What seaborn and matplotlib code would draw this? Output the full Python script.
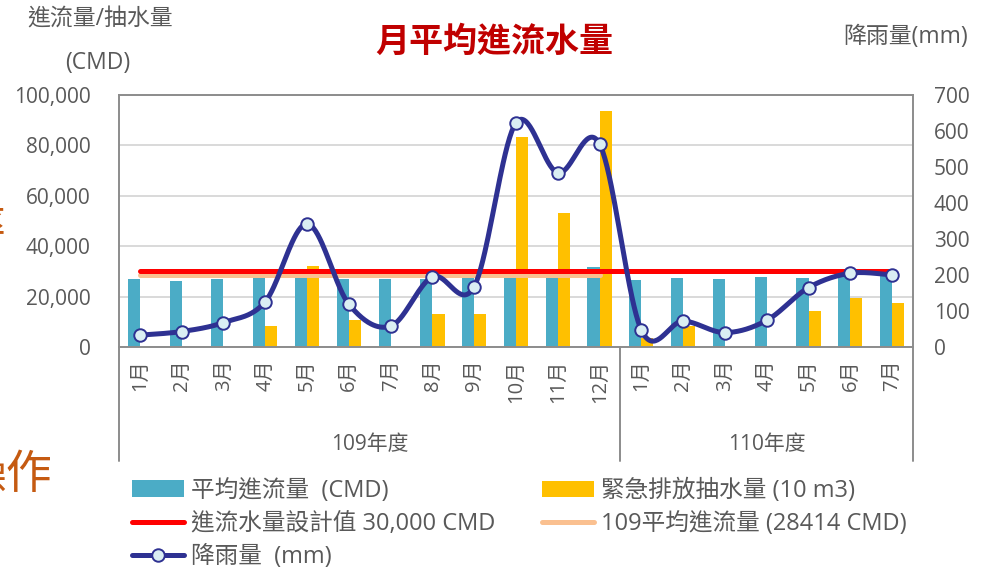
import numpy as np
import pandas as pd
import matplotlib
matplotlib.use("Agg")
import matplotlib.pyplot as plt
import seaborn as sns
from matplotlib.patches import Patch
from matplotlib.lines import Line2D
from matplotlib.ticker import FuncFormatter

# ---------------- data ----------------
months = ['1月', '2月', '3月', '4月', '5月', '6月', '7月', '8月', '9月', '10月', '11月', '12月',
          '1月', '2月', '3月', '4月', '5月', '6月', '7月']
years = ['109年度'] * 12 + ['110年度'] * 7
inflow = [26900, 26300, 26900, 27500, 27500, 27000, 27000, 27000, 27300, 27500, 27500, 31900,
          26600, 27500, 27000, 27800, 27400, 28500, 28000]
pumping = [0, 0, 0, 8500, 32100, 10700, 0, 13000, 13100, 83400, 53300, 93800,
           3400, 8300, 0, 0, 14400, 19600, 17600]
rainfall = [33, 43, 68, 126, 342, 119, 58, 195, 168, 623, 484, 564,
            47, 72, 40, 74, 165, 205, 200]
design_value = 30000
avg_109 = 28414
left_ticks = [0, 20000, 40000, 60000, 80000, 100000]
right_ticks = [0, 100, 200, 300, 400, 500, 600, 700]

name_inflow = '平均進流量  (CMD)'
name_pump = '緊急排放抽水量 (10 m3)'
name_design = '進流水量設計值 30,000 CMD'
name_avg = '109平均進流量 (28414 CMD)'
name_rain = '降雨量  (mm)'

# ---------------- style ----------------
C_TEAL = '#4BACC6'
C_YEL = '#FFC000'
C_RED = '#FF0000'
C_ORG = '#FAC090'
C_NAVY = '#2E3192'
C_MFACE = '#DAEEF3'
C_TXT = '#595959'
C_AX = '#8C8C8C'
C_GRID = '#D9D9D9'

sns.set_theme(style='white')
plt.rcParams['font.family'] = ['Open Sans', 'Noto Sans CJK TC', 'DejaVu Sans']
plt.rcParams['axes.unicode_minus'] = False

W, H = 982, 568
def fx(px):
    return px / W
def fy(py):
    return 1 - py / H

fig = plt.figure(figsize=(W / 100, H / 100), dpi=100)
L, R, T, B = 119, 913, 95, 347
ax = fig.add_axes([fx(L), fy(B), fx(R) - fx(L), fy(T) - fy(B)])

keys = [f'{y}-{i}' for i, y in enumerate(years)]
df = pd.DataFrame({
    'key': keys * 2,
    'series': [name_inflow] * len(keys) + [name_pump] * len(keys),
    'value': inflow + pumping,
})
sns.barplot(data=df, x='key', y='value', hue='series', order=keys,
            hue_order=[name_inflow, name_pump], palette=[C_TEAL, C_YEL],
            width=0.58, gap=0, saturation=1, linewidth=0, legend=False, ax=ax)

xs = np.arange(len(keys))
# horizontal reference series
ax.plot(xs, [design_value] * len(xs), color=C_RED, lw=3.6, solid_capstyle='round', zorder=4)
n109 = years.count('109年度')
ax.plot(xs[:n109], [avg_109] * n109, color=C_ORG, lw=3.6, solid_capstyle='round', zorder=3.9)

ax.set_xlim(-0.5, len(keys) - 0.5)
ax.set_ylim(0, 100000)
ax.set_yticks(left_ticks)
ax.yaxis.set_major_formatter(FuncFormatter(lambda v, p: f'{int(v):,}'))
ax.set_xticks(xs)
ax.set_xticklabels(months, rotation=90)
ax.set_xlabel('')
ax.set_ylabel('')
ax.grid(False)
ax.yaxis.grid(True, color=C_GRID, lw=1.4)
ax.set_axisbelow(True)
for s in ax.spines.values():
    s.set_color(C_AX)
    s.set_linewidth(1.4)
ax.tick_params(axis='y', length=0, pad=20.5, labelsize=15, labelcolor=C_TXT)
ax.tick_params(axis='x', length=0, pad=9, labelsize=14.5, labelcolor=C_TXT)

# secondary axis: rainfall (smoothed like Excel)
ax2 = ax.twinx()
def smooth(xv, yv, n=40):
    pts = np.column_stack([xv, yv]).astype(float)
    out = []
    m = len(pts)
    for i in range(m - 1):
        p0 = pts[max(i - 1, 0)]
        p1 = pts[i]
        p2 = pts[i + 1]
        p3 = pts[min(i + 2, m - 1)]
        c1 = p1 + (p2 - p0) / 6
        c2 = p2 - (p3 - p1) / 6
        t = np.linspace(0, 1, n)[:, None]
        seg = (1 - t) ** 3 * p1 + 3 * (1 - t) ** 2 * t * c1 + 3 * (1 - t) * t ** 2 * c2 + t ** 3 * p2
        out.append(seg if i == 0 else seg[1:])
    return np.vstack(out)

curve = smooth(xs, rainfall)
ax2.plot(curve[:, 0], curve[:, 1], color=C_NAVY, lw=3.6, solid_capstyle='round', zorder=5)
ax2.plot(xs, rainfall, linestyle='none', marker='o', ms=9, mfc=C_MFACE, mec=C_NAVY, mew=1.4, zorder=6)
ax2.set_ylim(0, 700)
ax2.set_yticks(right_ticks)
ax2.grid(False)
for s in ax2.spines.values():
    s.set_visible(False)
ax2.tick_params(axis='y', length=0, pad=15, labelsize=15, labelcolor=C_TXT)
ax2.set_xlim(-0.5, len(keys) - 0.5)

# multi-level category axis dividers and group labels
ydrop = -(461 - B) / (B - T)
xtr = ax.get_xaxis_transform()
n_all = len(keys)
for xd in (-0.5, n109 - 0.5, n_all - 0.5):
    ax.plot([xd, xd], [0, ydrop], color=C_AX, lw=1.4, transform=xtr, clip_on=False)
ygrp = -(445 - B) / (B - T)
ax.text((n109 - 1) / 2, ygrp, '109年度', transform=xtr, ha='center', va='center',
        fontsize=15, color=C_TXT)
ax.text(n109 + (n_all - n109 - 1) / 2, ygrp, '110年度', transform=xtr, ha='center', va='center',
        fontsize=15, color=C_TXT)

# titles
fig.text(fx(494), fy(43), '月平均進流水量', ha='center', va='center', fontsize=24.5,
         fontweight='bold', color='#C00000')
fig.text(fx(100), fy(20), '進流量/抽水量', ha='center', va='center', fontsize=16.5, color=C_TXT)
fig.text(fx(98), fy(63), '(CMD)', ha='center', va='center', fontsize=16.5, color=C_TXT)
fig.text(fx(906), fy(37), '降雨量(mm)', ha='center', va='center', fontsize=16.5, color=C_TXT)

# slide fragments at the left edge
fig.text(fx(52), fy(476), '操作', ha='right', va='center', fontsize=33, color='#C55A11')
fig.text(fx(5), fy(228), '率', ha='right', va='center', fontsize=30, color='#C55A11')

# legend
h_inflow = Patch(facecolor=C_TEAL, edgecolor='none', label=name_inflow)
h_pump = Patch(facecolor=C_YEL, edgecolor='none', label=name_pump)
h_design = Line2D([], [], color=C_RED, lw=3.6, solid_capstyle='round', label=name_design)
h_avg = Line2D([], [], color=C_ORG, lw=3.6, solid_capstyle='round', label=name_avg)
h_rain = Line2D([], [], color=C_NAVY, lw=3.6, marker='o', ms=9, mfc=C_MFACE, mec=C_NAVY,
                mew=1.4, label=name_rain)
common = dict(loc='upper left', frameon=False, fontsize=17, handlelength=2.2,
              handletextpad=0.3, labelspacing=0.38, borderpad=0, borderaxespad=0,
              labelcolor=C_TXT)
leg1 = fig.legend(handles=[h_inflow, h_design, h_rain], bbox_to_anchor=(fx(132), fy(479)), **common)
leg2 = fig.legend(handles=[h_pump, h_avg], bbox_to_anchor=(fx(542), fy(479)), **common)

fig.savefig('out.png', dpi=100)
